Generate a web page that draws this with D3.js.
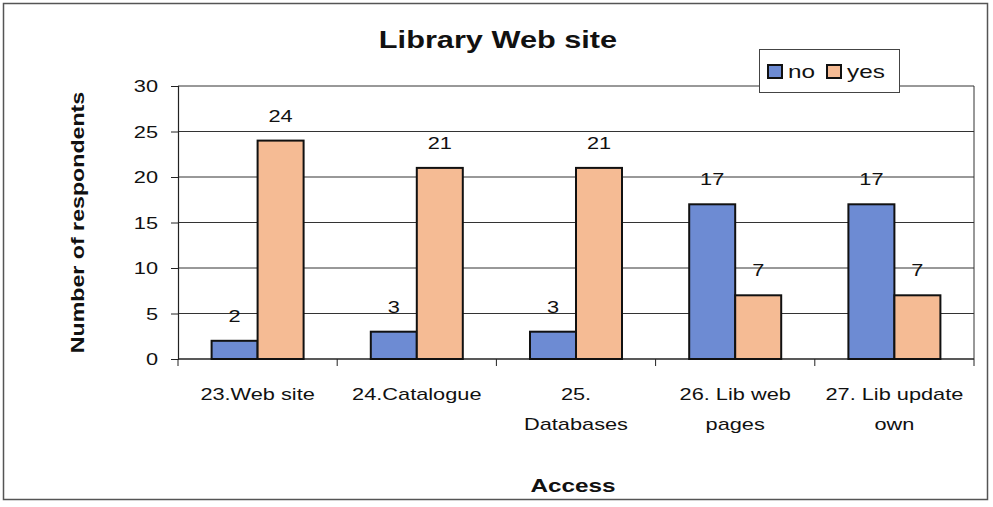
<!DOCTYPE html>
<html>
<head>
<meta charset="utf-8">
<script src="https://cdn.jsdelivr.net/npm/d3@7"></script>
<style>
  body { margin: 0; background: #fff; }
  text { font-family: Arial, "Liberation Sans", sans-serif; fill: #111; }
</style>
</head>
<body>
<div id="chart"></div>
<script>
// data
var categories = [["23.Web site"], ["24.Catalogue"], ["25.", "Databases"], ["26. Lib web", "pages"], ["27. Lib update", "own"]];
var noValues = [2, 3, 3, 17, 17];
var yesValues = [24, 21, 21, 7, 7];
var seriesNames = ["no", "yes"];
var seriesColors = ["#6d8bd3", "#f5bb94"];
var yTicks = [0, 5, 10, 15, 20, 25, 30];

var W = 993, H = 507;
var SX = 1.28; // the scanned chart has wide letters
var margin = { top: 86, left: 178 },
    width = 974 - margin.left,
    height = 359 - margin.top;

// place a text at (x,y) stretched horizontally around its anchor
function place(sel, px, py) {
    sel.attr("x", null).attr("y", null)
        .attr("transform", function(d, i) {
            var a = typeof px === "function" ? px(d, i) : px;
            var b = typeof py === "function" ? py(d, i) : py;
            return "translate(" + a + "," + b + ") scale(" + SX + ",1)";
        });
    return sel;
}

var svg = d3.select("#chart")
    .append("svg")
    .attr("width", W)
    .attr("height", H);

// outer frame
svg.append("rect")
    .attr("x", 3.5).attr("y", 3.5)
    .attr("width", 984).attr("height", 496)
    .attr("fill", "#fff")
    .attr("stroke", "#555")
    .attr("stroke-width", 1.5);

var g = svg.append("g")
    .attr("transform", "translate(" + margin.left + "," + margin.top + ")");

var keys = categories.map(function(c, i) { return i; });

var x = d3.scaleBand()
    .domain(keys)
    .range([0, width]);

var x1 = d3.scaleBand()
    .domain(seriesNames)
    .range([x.bandwidth() / 2 - 46, x.bandwidth() / 2 + 46]);

var y = d3.scaleLinear()
    .domain([0, 30])
    .range([height, 0]);

// gridlines
g.selectAll(".grid")
    .data(yTicks.filter(function(d) { return d > 0; }))
    .enter()
    .append("line")
    .attr("x1", 0)
    .attr("x2", width)
    .attr("y1", function(d) { return y(d); })
    .attr("y2", function(d) { return y(d); })
    .attr("stroke", "#333")
    .attr("stroke-width", 1);

// right border of plot area
g.append("line")
    .attr("x1", width).attr("x2", width)
    .attr("y1", 0).attr("y2", height)
    .attr("stroke", "#333");

// y axis
var yAxis = g.append("g")
    .call(d3.axisLeft(y).tickValues(yTicks).tickSize(7).tickPadding(13));
yAxis.select(".domain").attr("stroke", "#222").attr("stroke-width", 1.2);
yAxis.selectAll(".tick line").attr("stroke", "#222");
place(yAxis.selectAll(".tick text"), -20, 0)
    .attr("dy", "0.35em")
    .style("font-size", "17px")
    .style("font-family", "Arial, 'Liberation Sans', sans-serif")
    .attr("fill", "#111");

// x axis with ticks between categories
var xAxisG = g.append("g")
    .attr("transform", "translate(0," + height + ")");
xAxisG.append("line")
    .attr("x1", 0).attr("x2", width)
    .attr("stroke", "#222").attr("stroke-width", 1.5);
xAxisG.selectAll(".sep")
    .data(d3.range(categories.length + 1))
    .enter()
    .append("line")
    .attr("x1", function(d) { return d * x.step(); })
    .attr("x2", function(d) { return d * x.step(); })
    .attr("y1", 0).attr("y2", 7)
    .attr("stroke", "#222");

var xlabels = xAxisG.selectAll(".xlab")
    .data(categories)
    .enter()
    .append("text")
    .attr("text-anchor", "middle")
    .style("font-size", "17px");
place(xlabels, function(d, i) { return x(i) + x.bandwidth() / 2; }, 41);
xlabels.selectAll("tspan")
    .data(function(d) { return d; })
    .enter()
    .append("tspan")
    .attr("x", 0)
    .attr("dy", function(d, i) { return i === 0 ? 0 : 30; })
    .text(function(d) { return d; });

// bars
var rows = keys.map(function(i) { return { i: i, no: noValues[i], yes: yesValues[i] }; });

var groups = g.selectAll(".grp")
    .data(rows)
    .enter()
    .append("g")
    .attr("transform", function(d) { return "translate(" + x(d.i) + ",0)"; });

groups.selectAll("rect")
    .data(function(d) { return seriesNames.map(function(k) { return { key: k, value: d[k] }; }); })
    .enter()
    .append("rect")
    .attr("x", function(d) { return x1(d.key); })
    .attr("width", x1.bandwidth())
    .attr("y", function(d) { return y(d.value); })
    .attr("height", function(d) { return height - y(d.value); })
    .attr("fill", function(d, i) { return seriesColors[i]; })
    .attr("stroke", "#111")
    .attr("stroke-width", 2);

var vals = groups.selectAll(".val")
    .data(function(d) { return seriesNames.map(function(k) { return { key: k, value: d[k] }; }); })
    .enter()
    .append("text")
    .attr("text-anchor", "middle")
    .style("font-size", "17px")
    .text(function(d) { return d.value; });
place(vals,
    function(d) { return x1(d.key) + x1.bandwidth() / 2; },
    function(d) { return y(d.value) - 19; });

// title
svg.append("text")
    .attr("text-anchor", "middle")
    .style("font-size", "24px")
    .style("font-weight", "bold")
    .text("Library Web site")
    .call(place, 498, 48);

// y axis title
svg.append("text")
    .attr("transform", "translate(84," + (margin.top + height / 2) + ") rotate(-90) scale(1.22,1)")
    .attr("text-anchor", "middle")
    .style("font-size", "19px")
    .style("font-weight", "bold")
    .text("Number of respondents");

// x axis title
svg.append("text")
    .attr("text-anchor", "middle")
    .style("font-size", "19px")
    .style("font-weight", "bold")
    .text("Access")
    .call(place, 573, 492);

// legend
var legend = svg.append("g").attr("transform", "translate(759,49)");
legend.append("rect")
    .attr("x", 0.5).attr("y", 0.5)
    .attr("width", 140).attr("height", 43)
    .attr("fill", "#fff")
    .attr("stroke", "#444");
var items = legend.selectAll(".item")
    .data(seriesNames)
    .enter()
    .append("g")
    .attr("transform", function(d, i) { return "translate(" + (9 + i * 59) + ",0)"; });
items.append("rect")
    .attr("x", 0).attr("y", 16)
    .attr("width", 14).attr("height", 13)
    .attr("fill", function(d, i) { return seriesColors[i]; })
    .attr("stroke", "#111")
    .attr("stroke-width", 2);
var ltext = items.append("text")
    .style("font-size", "19px")
    .text(function(d) { return d; });
place(ltext, 20, 29);
</script>
</body>
</html>
